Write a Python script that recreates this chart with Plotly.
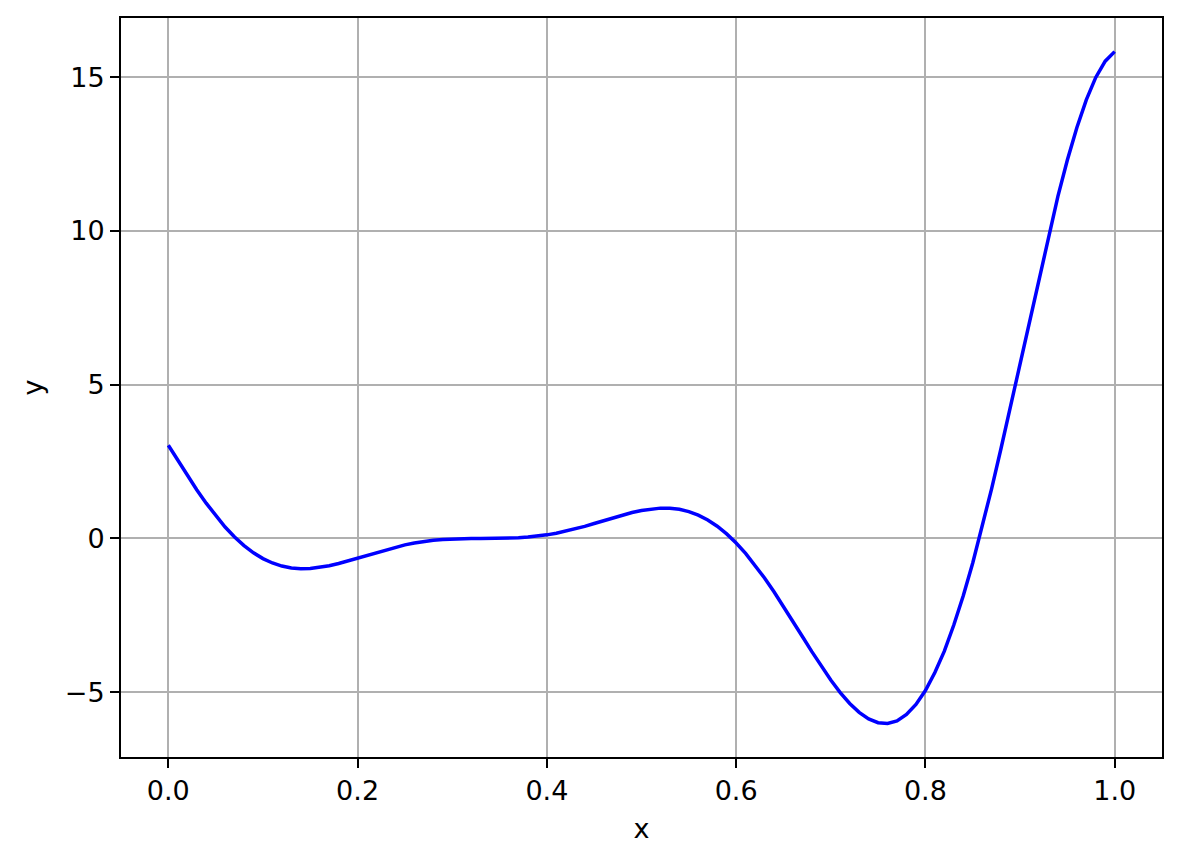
import plotly.graph_objects as go

x_vals = [0.00, 0.01, 0.02, 0.03, 0.04, 0.05, 0.06, 0.07, 0.08, 0.09,
          0.10, 0.11, 0.12, 0.13, 0.14, 0.15, 0.16, 0.17, 0.18, 0.19,
          0.20, 0.21, 0.22, 0.23, 0.24, 0.25, 0.26, 0.27, 0.28, 0.29,
          0.30, 0.31, 0.32, 0.33, 0.34, 0.35, 0.36, 0.37, 0.38, 0.39,
          0.40, 0.41, 0.42, 0.43, 0.44, 0.45, 0.46, 0.47, 0.48, 0.49,
          0.50, 0.51, 0.52, 0.53, 0.54, 0.55, 0.56, 0.57, 0.58, 0.59,
          0.60, 0.61, 0.62, 0.63, 0.64, 0.65, 0.66, 0.67, 0.68, 0.69,
          0.70, 0.71, 0.72, 0.73, 0.74, 0.75, 0.76, 0.77, 0.78, 0.79,
          0.80, 0.81, 0.82, 0.83, 0.84, 0.85, 0.86, 0.87, 0.88, 0.89,
          0.90, 0.91, 0.92, 0.93, 0.94, 0.95, 0.96, 0.97, 0.98, 0.99, 1.00]
y_vals = [3.027, 2.534, 2.049, 1.584, 1.144, 0.738, 0.371, 0.046, -0.234, -0.469,
          -0.657, -0.800, -0.900, -0.961, -0.985, -0.978, -0.944, -0.889, -0.816, -0.731,
          -0.640, -0.545, -0.452, -0.364, -0.282, -0.210, -0.149, -0.099, -0.061, -0.034,
          -0.016, -0.005, -0.001, 0.000, 0.000, 0.002, 0.008, 0.021, 0.042, 0.073,
          0.115, 0.168, 0.233, 0.308, 0.392, 0.483, 0.577, 0.671, 0.761, 0.842,
          0.909, 0.959, 0.984, 0.981, 0.945, 0.871, 0.757, 0.599, 0.396, 0.146,
          -0.149, -0.489, -0.870, -1.287, -1.736, -2.209, -2.698, -3.192, -3.683, -4.158,
          -4.606, -5.014, -5.369, -5.658, -5.871, -5.993, -6.016, -5.938, -5.727, -5.402,
          -4.949, -4.361, -3.666, -2.817, -1.867, -0.799, 0.367, 1.619, 2.940, 4.312,
          5.712, 7.118, 8.507, 9.853, 11.124, 12.303, 13.356, 14.260, 14.990, 15.519, 15.830]

x_ticks = [0.0, 0.2, 0.4, 0.6, 0.8, 1.0]
x_tick_labels = ["0.0", "0.2", "0.4", "0.6", "0.8", "1.0"]
y_ticks = [-5, 0, 5, 10, 15]
y_tick_labels = ["\u22125", "0", "5", "10", "15"]

fig = go.Figure()
fig.add_trace(go.Scatter(x=x_vals, y=y_vals, mode="lines",
                         line=dict(color="#0000ff", width=3.5), showlegend=False))

font = dict(family="DejaVu Sans", size=27, color="black")
axis_common = dict(showline=True, linecolor="black", linewidth=2, mirror=True,
                   ticks="outside", ticklen=9, tickwidth=2, tickcolor="black",
                   showgrid=True, gridcolor="#b0b0b0", gridwidth=2,
                   zeroline=False, tickfont=font)

fig.update_xaxes(range=[-0.05, 1.05], tickvals=x_ticks, ticktext=x_tick_labels,
                 title=dict(text="x", font=font, standoff=14), **axis_common)
fig.update_yaxes(range=[-7.109, 16.923], tickvals=y_ticks, ticktext=y_tick_labels,
                 title=dict(text="y", font=font, standoff=14), **axis_common)

fig.update_layout(width=1181, height=864, plot_bgcolor="white", paper_bgcolor="white",
                  margin=dict(l=121, r=19, t=18, b=107), font=font)

fig.write_html("out.html", config={"displayModeBar": False},
               post_script="document.body.style.margin='0px';")
